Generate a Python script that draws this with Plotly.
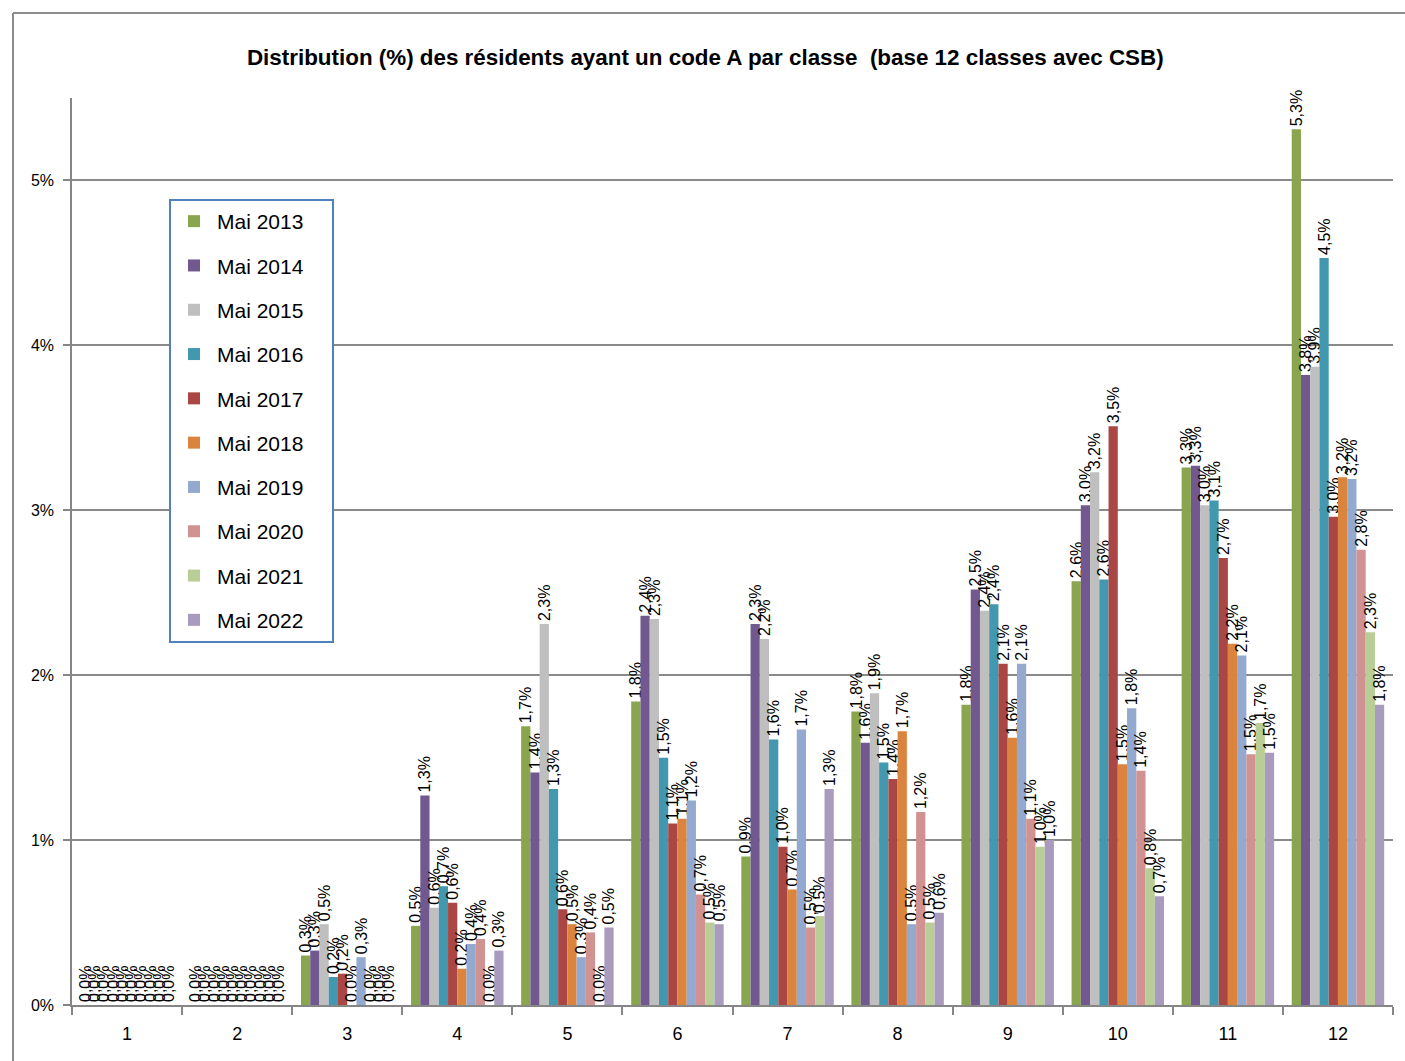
import plotly.graph_objects as go

categories = [str(i) for i in range(1, 13)]
series_names = ["Mai 2013", "Mai 2014", "Mai 2015", "Mai 2016", "Mai 2017",
                "Mai 2018", "Mai 2019", "Mai 2020", "Mai 2021", "Mai 2022"]

mai_2013 = [0.0, 0.0, 0.30, 0.48, 1.69, 1.84, 0.90, 1.78, 1.82, 2.57, 3.26, 5.31]
mai_2014 = [0.0, 0.0, 0.33, 1.27, 1.41, 2.36, 2.31, 1.59, 2.52, 3.03, 3.27, 3.82]
mai_2015 = [0.0, 0.0, 0.49, 0.59, 2.31, 2.34, 2.22, 1.89, 2.39, 3.23, 3.03, 3.87]
mai_2016 = [0.0, 0.0, 0.17, 0.72, 1.31, 1.50, 1.61, 1.47, 2.43, 2.58, 3.06, 4.53]
mai_2017 = [0.0, 0.0, 0.19, 0.62, 0.58, 1.10, 0.96, 1.37, 2.07, 3.51, 2.71, 2.96]
mai_2018 = [0.0, 0.0, 0.0, 0.22, 0.49, 1.13, 0.70, 1.66, 1.62, 1.46, 2.19, 3.20]
mai_2019 = [0.0, 0.0, 0.29, 0.37, 0.29, 1.24, 1.67, 0.49, 2.07, 1.80, 2.12, 3.19]
mai_2020 = [0.0, 0.0, 0.0, 0.40, 0.44, 0.67, 0.47, 1.17, 1.13, 1.42, 1.52, 2.76]
mai_2021 = [0.0, 0.0, 0.0, 0.0, 0.0, 0.50, 0.54, 0.50, 0.96, 0.83, 1.71, 2.26]
mai_2022 = [0.0, 0.0, 0.0, 0.33, 0.47, 0.49, 1.31, 0.56, 1.00, 0.66, 1.53, 1.82]

y_tick_values = [0, 1, 2, 3, 4, 5]
y_tick_labels = ["0%", "1%", "2%", "3%", "4%", "5%"]

colors = ["#89A54E", "#71588F", "#BFBFBF", "#4198AF", "#AA4643",
          "#DB843D", "#93A9CF", "#D19392", "#B9CD96", "#A99BBD"]

all_series = [mai_2013, mai_2014, mai_2015, mai_2016, mai_2017,
              mai_2018, mai_2019, mai_2020, mai_2021, mai_2022]

FONT = "Liberation Sans, Arial, sans-serif"

fig = go.Figure()
for name, vals, col in zip(series_names, all_series, colors):
    fig.add_trace(go.Bar(
        x=categories, y=vals, name=name + "\u00a0" * 4,
        legendgroup=name,
        marker=dict(color=col, line=dict(width=0)),
        text=[f"{v:.1f}".replace(".", ",") + "%" for v in vals],
        textposition="outside", textangle=-90,
        constraintext="none", cliponaxis=False,
        textfont=dict(family=FONT, size=16, color="#000000"),
    ))

W, H = 1405, 1061
L, R, T, B = 72, 12, 98, 56
pw, ph = W - L - R, H - T - B

def px_x(x):
    return (x - L) / pw

def px_y(y):
    return (H - B - y) / ph

fig.update_layout(
    width=W, height=H,
    margin=dict(l=L, r=R, t=T, b=B, autoexpand=False),
    paper_bgcolor="white", plot_bgcolor="white",
    barmode="group", bargap=0.16, bargroupgap=0.0,
    title=dict(text="<b>Distribution (%) des résidents ayant un code A par classe  (base 12 classes avec CSB)</b>",
               x=0.502, xref="container", xanchor="center",
               y=1 - 57 / H, yref="container", yanchor="middle",
               font=dict(family=FONT, size=22.4, color="#000000")),
    showlegend=True,
    legend=dict(x=px_x(169), y=px_y(199), xanchor="left", yanchor="top",
                bordercolor="#4F81BD", borderwidth=2, bgcolor="white",
                tracegroupgap=14, itemwidth=36,
                font=dict(family=FONT, size=21, color="#000000")),
    xaxis=dict(type="category", tickson="boundaries", ticks="outside", ticklen=8,
               tickcolor="#868686", tickwidth=1.5, ticklabelstandoff=12,
               showline=True, linecolor="#868686", linewidth=1.5,
               showgrid=False, tickfont=dict(family=FONT, size=18, color="#000000")),
    yaxis=dict(range=[0, 5.5], tickvals=y_tick_values, ticktext=y_tick_labels,
               ticks="outside", ticklen=7, tickcolor="#868686", tickwidth=1.5,
               ticklabelstandoff=6,
               showline=True, linecolor="#868686", linewidth=1.5,
               showgrid=True, gridcolor="#8A8A8A", gridwidth=1.5, zeroline=False,
               tickfont=dict(family=FONT, size=16, color="#000000")),
    shapes=[
        dict(type="line", xref="paper", yref="paper",
             x0=px_x(13), x1=px_x(1405), y0=px_y(13), y1=px_y(13),
             line=dict(color="#8C8C8C", width=2)),
        dict(type="line", xref="paper", yref="paper",
             x0=px_x(13), x1=px_x(13), y0=px_y(13), y1=px_y(1061),
             line=dict(color="#8C8C8C", width=2)),
    ],
)

fig.write_html("out.html", config={"displayModeBar": False},
               post_script="document.body.style.margin='0';document.body.style.padding='0';")
